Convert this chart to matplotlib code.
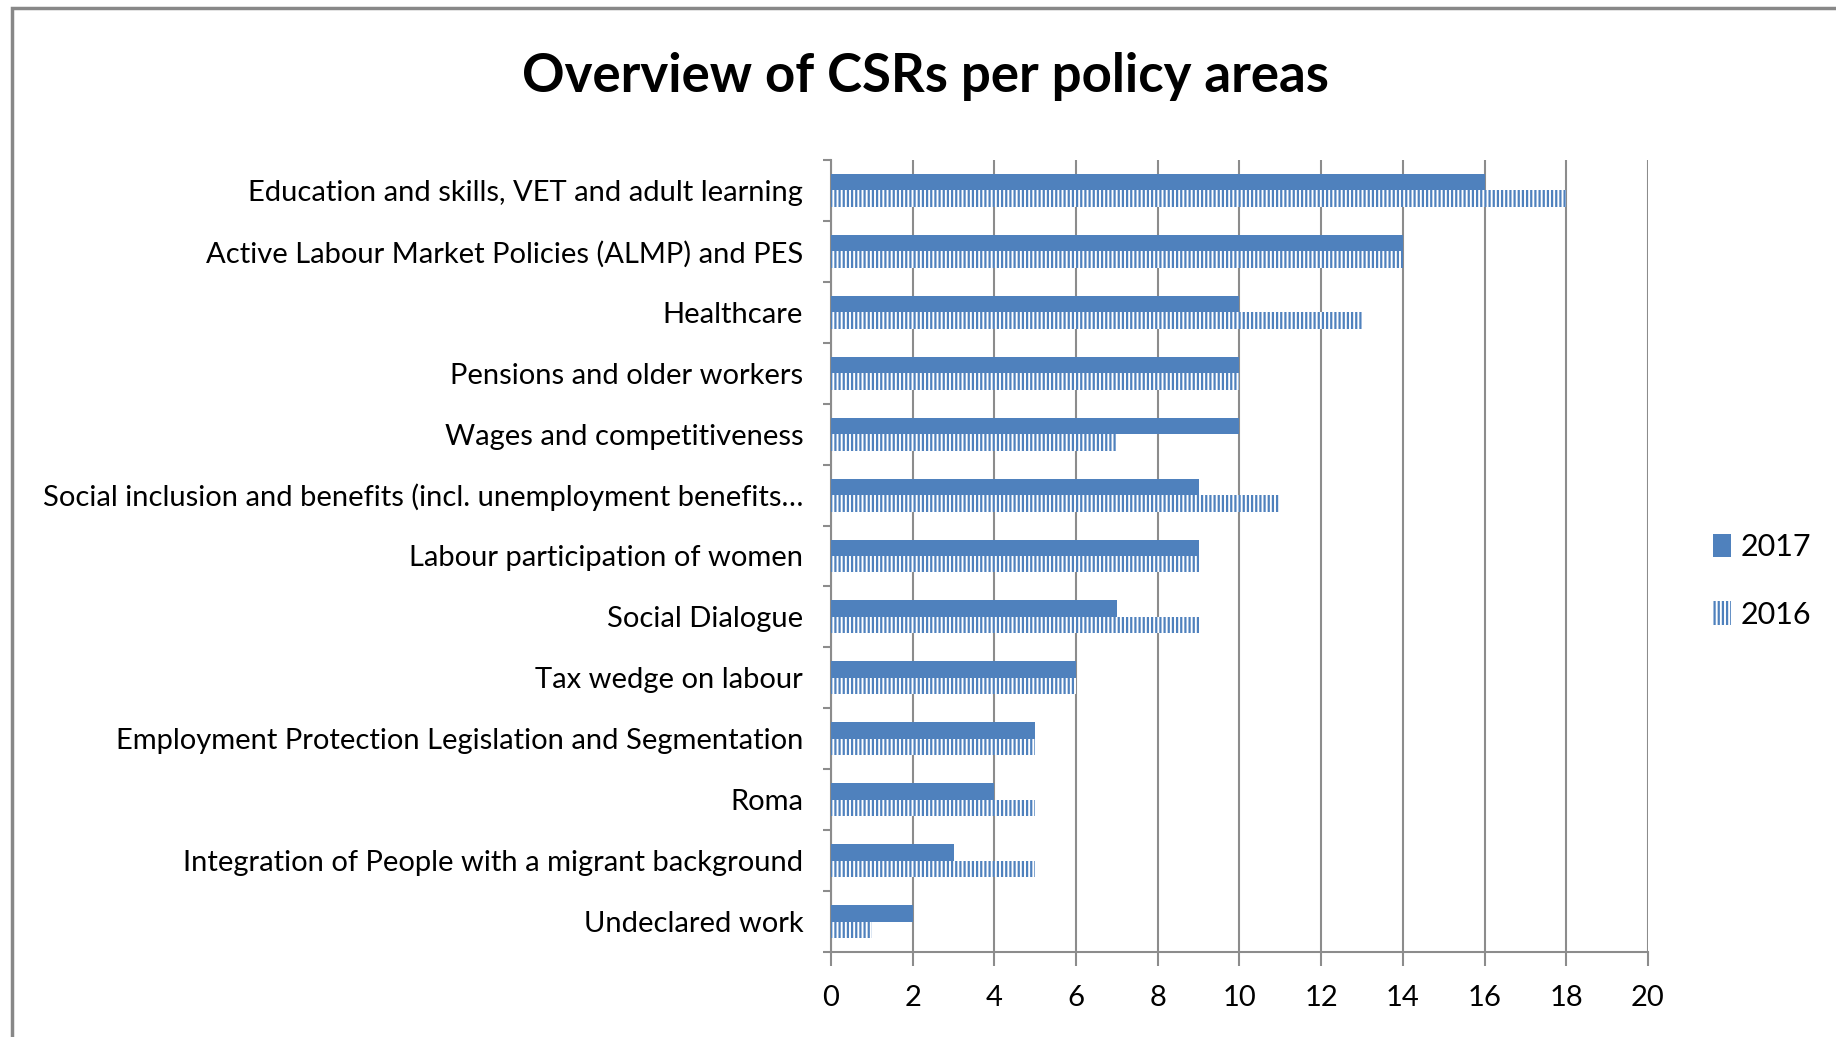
import numpy as np
import matplotlib.pyplot as plt
from matplotlib.patches import Rectangle

plt.rcParams['font.family'] = ['Lato', 'DejaVu Sans']
plt.rcParams['hatch.linewidth'] = 1.6

# policy areas, top to bottom as in the chart
categories = [
    "Education and skills, VET and adult learning",
    "Active Labour Market Policies (ALMP) and PES",
    "Healthcare",
    "Pensions and older workers",
    "Wages and competitiveness",
    "Social inclusion and benefits (incl. unemployment benefits\u2026",
    "Labour participation of women",
    "Social Dialogue",
    "Tax wedge on labour",
    "Employment Protection Legislation and Segmentation",
    "Roma",
    "Integration of People with a migrant background",
    "Undeclared work",
]
csr_2017 = [16, 14, 10, 10, 10, 9, 9, 7, 6, 5, 4, 3, 2]
csr_2016 = [18, 14, 13, 10, 7, 11, 9, 9, 6, 5, 5, 5, 1]
xticks = np.arange(0, 21, 2)

blue = '#4f81bd'
grey = '#8c8c8c'

fig = plt.figure(figsize=(18.36, 10.37), dpi=100)
ax = fig.add_axes([0.4526, 0.082, 0.4450, 0.7637])

n = len(categories)
y = n - 1 - np.arange(n)  # first category at the top
h = 0.27

ax.barh(y + h / 2, csr_2017, height=h, color=blue, label='2017', zorder=3)
ax.barh(y - h / 2, csr_2016, height=h, color='white', edgecolor=blue,
        linewidth=0, hatch='||||', label='2016', zorder=3)

ax.set_xlim(0, 20)
ax.set_ylim(-0.5, n - 0.5)
ax.set_xticks(xticks)
ax.set_xticklabels([str(v) for v in xticks], fontsize=21)
ax.set_yticks(y)
ax.set_yticklabels(categories, fontsize=21)
ax.set_yticks(np.arange(-0.5, n, 1), minor=True)
ax.tick_params(axis='y', which='major', length=0, pad=20)
ax.tick_params(axis='y', which='minor', length=6, color=grey, width=1.5)
ax.tick_params(axis='x', length=10, color=grey, width=1.5, pad=14)

ax.grid(axis='x', color=grey, linewidth=1.5, zorder=0)
ax.set_axisbelow(True)
for s in ['top', 'right']:
    ax.spines[s].set_visible(False)
for s in ['left', 'bottom']:
    ax.spines[s].set_color(grey)
    ax.spines[s].set_linewidth(1.5)

fig.text(0.504, 0.926, "Overview of CSRs per policy areas", ha='center', va='center',
         fontsize=38, fontweight='bold')

fig.legend(loc='center left', bbox_to_anchor=(0.918, 0.44), frameon=False,
           fontsize=22, handlelength=0.6, handleheight=0.8, handletextpad=0.3,
           labelspacing=1.3)

# outer chart frame
fig.patches.append(Rectangle((12 / 1836, -0.05), 1.2, 1 - 8 / 1037 + 0.05,
                             transform=fig.transFigure, fill=False,
                             edgecolor='#888888', linewidth=2.5))

fig.savefig('out.png', dpi=100)
